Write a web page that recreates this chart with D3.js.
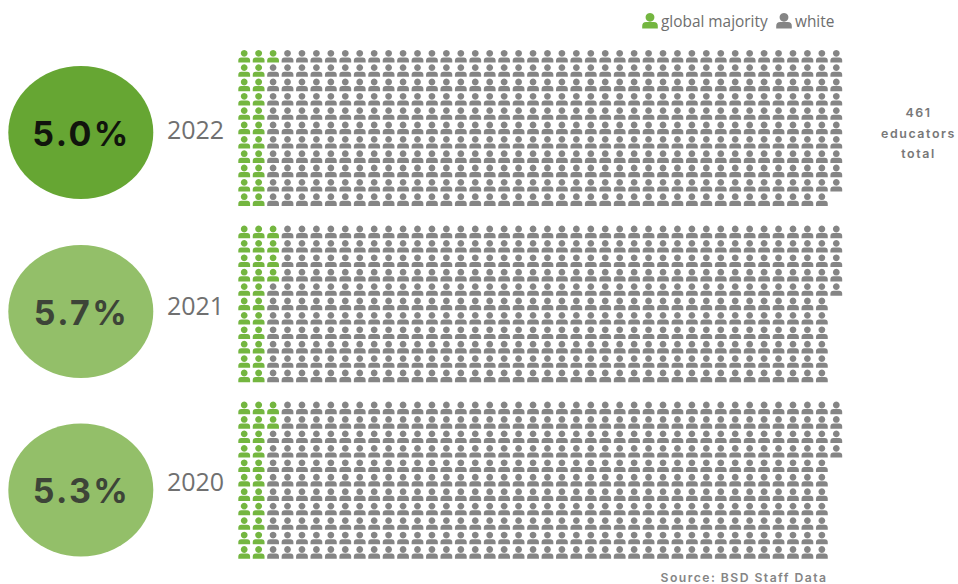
<!DOCTYPE html>
<html>
<head>
<meta charset="utf-8">
<script src="https://cdn.jsdelivr.net/npm/d3@7/dist/d3.min.js"></script>
<style>
  html, body { margin: 0; padding: 0; background: #fff; }
  svg { display: block; }
</style>
</head>
<body>
<div id="chart"></div>
<script>
// Educators per year, split into global majority and white
const years = ["2022", "2021", "2020"];
const shareLabels = ["5.0%", "5.7%", "5.3%"];
const globalMajority = [23, 26, 24];
const totals = [461, 456, 455];
const legendLabels = ["global majority", "white"];

const COLUMNS = 42, ROWS = 11;
const WIDTH = 958, HEIGHT = 584;

const GREEN = "#74b640", GREY = "#858585";
const circleFill = ["#66a633", "#93bf69", "#93bf69"];
const circleText = ["#11150d", "#3d4438", "#3d4438"];

// Vertical placement of each year's band
const gridTop = d3.scaleOrdinal().domain(years).range([53.3, 229, 405]);
const rowStep = d3.scaleOrdinal().domain(years).range([14.34, 14.4, 14.45]);
const circleY = d3.scaleOrdinal().domain(years).range([132.5, 311.5, 490]);
const yearY = d3.scaleOrdinal().domain(years).range([139, 314.5, 490.5]);

const colX = d3.scalePoint().domain(d3.range(COLUMNS)).range([244.2, 836.3]);

const svg = d3.select("#chart").append("svg")
  .attr("width", WIDTH).attr("height", HEIGHT)
  .attr("viewBox", `0 0 ${WIDTH} ${HEIGHT}`);

// Person glyph, origin at the centre of the head
const person = "M0,-3.4a3.4,3.4 0 1 1 -0.001,0Z" +
  "M-5.9,9.2 L-5.9,7 Q-5.9,4.1 -2.9,4.1 L2.9,4.1 Q5.9,4.1 5.9,7 L5.9,9.2 Z";

const bands = svg.selectAll("g.year")
  .data(years.map((year, i) => ({
    year, label: shareLabels[i], green: globalMajority[i], total: totals[i], i
  })))
  .join("g").attr("class", "year");

bands.append("ellipse")
  .attr("cx", 80.8)
  .attr("cy", d => circleY(d.year))
  .attr("rx", 72.5)
  .attr("ry", 66.5)
  .attr("fill", d => circleFill[d.i]);

bands.append("text")
  .attr("x", 81.5)
  .attr("y", d => circleY(d.year) + 13)
  .attr("text-anchor", "middle")
  .attr("font-family", "Inter, 'Open Sans', sans-serif")
  .attr("font-weight", 700)
  .attr("font-size", 34)
  .attr("letter-spacing", 2.4)
  .attr("fill", d => circleText[d.i])
  .text(d => d.label);

bands.append("text")
  .attr("x", 195.5)
  .attr("y", d => yearY(d.year))
  .attr("text-anchor", "middle")
  .attr("font-family", "'Open Sans', 'Noto Sans', sans-serif")
  .attr("font-size", 25)
  .attr("fill", "#707070")
  .text(d => d.year);

// Filled column by column, global majority first
bands.each(function (d) {
  const rowY = i => gridTop(d.year) + i * rowStep(d.year);
  d3.select(this).selectAll("path.person")
    .data(d3.range(d.total))
    .join("path")
    .attr("class", "person")
    .attr("d", person)
    .attr("fill", n => n < d.green ? GREEN : GREY)
    .attr("transform", n =>
      `translate(${colX(Math.floor(n / ROWS))},${rowY(n % ROWS)})`);
});

// Legend
const legendIconX = [650, 784];
const legendTextX = [661, 795];
const legend = svg.selectAll("g.legend")
  .data(legendLabels)
  .join("g").attr("class", "legend");
legend.append("path")
  .attr("d", "M0,-4.4a4.4,4.4 0 1 1 -0.001,0Z" +
    "M-7.8,11.2 L-7.8,8.6 Q-7.8,4.6 -3.8,4.6 L3.8,4.6 Q7.8,4.6 7.8,8.6 L7.8,11.2 Z")
  .attr("fill", (d, i) => i === 0 ? GREEN : GREY)
  .attr("transform", (d, i) => `translate(${legendIconX[i]},17.3)`);
legend.append("text")
  .attr("x", (d, i) => legendTextX[i])
  .attr("y", 27)
  .attr("font-family", "'Open Sans', 'Noto Sans', sans-serif")
  .attr("font-size", 15.4)
  .attr("fill", "#6e6e6e")
  .text(d => d);

// Total annotation
const noteLines = ["461", "educators", "total"];
svg.selectAll("text.note")
  .data(noteLines)
  .join("text")
  .attr("class", "note")
  .attr("x", 918.5)
  .attr("y", (d, i) => 117 + i * 20.5)
  .attr("text-anchor", "middle")
  .attr("font-family", "Inter, sans-serif")
  .attr("font-weight", 600)
  .attr("font-size", 12.4)
  .attr("letter-spacing", 1.6)
  .attr("fill", "#787878")
  .text(d => d);

svg.append("text")
  .attr("x", 744)
  .attr("y", 582)
  .attr("text-anchor", "middle")
  .attr("font-family", "Inter, sans-serif")
  .attr("font-weight", 600)
  .attr("font-size", 12.2)
  .attr("letter-spacing", 1.45)
  .attr("fill", "#858585")
  .text("Source: BSD Staff Data");
</script>
</body>
</html>
